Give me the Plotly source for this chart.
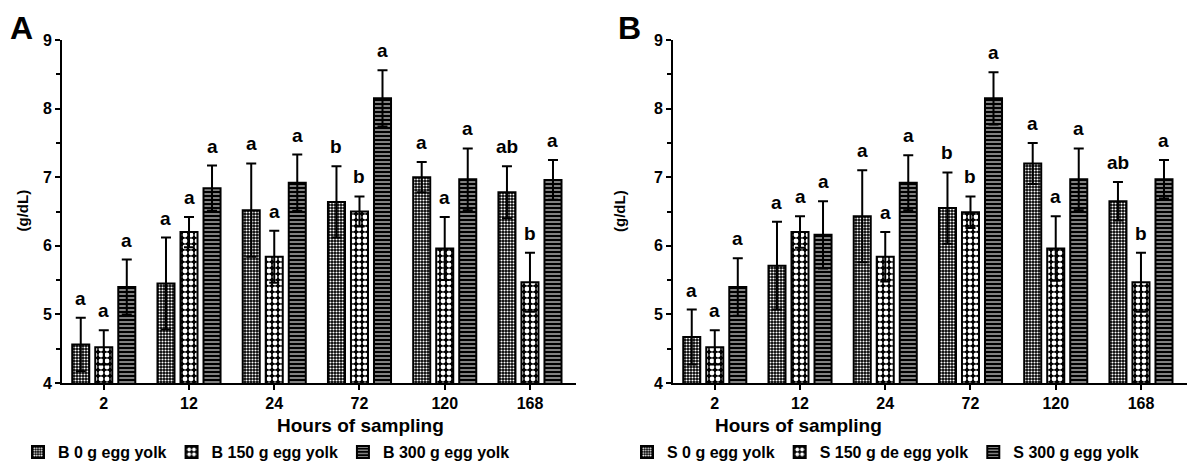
import plotly.graph_objects as go
from plotly.subplots import make_subplots

hours = ["2", "12", "24", "72", "120", "168"]

b_names = ["B 0 g egg yolk", "B 150 g egg yolk", "B 300 g egg yolk"]
s_names = ["S 0 g egg yolk", "S 150 g de egg yolk", "S 300 g egg yolk"]

# panel A (B groups)
b0_mean = [4.56, 5.45, 6.52, 6.64, 7.00, 6.78]
b0_sd = [0.39, 0.67, 0.68, 0.52, 0.22, 0.38]
b150_mean = [4.52, 6.20, 5.84, 6.50, 5.96, 5.47]
b150_sd = [0.25, 0.22, 0.38, 0.22, 0.46, 0.43]
b300_mean = [5.40, 6.84, 6.92, 8.15, 6.97, 6.96]
b300_sd = [0.40, 0.33, 0.41, 0.41, 0.45, 0.29]

# panel B (S groups)
s0_mean = [4.67, 5.71, 6.43, 6.55, 7.20, 6.65]
s0_sd = [0.40, 0.64, 0.67, 0.52, 0.30, 0.28]
s150_mean = [4.52, 6.20, 5.84, 6.49, 5.96, 5.47]
s150_sd = [0.25, 0.23, 0.36, 0.23, 0.47, 0.43]
s300_mean = [5.40, 6.16, 6.92, 8.15, 6.97, 6.97]
s300_sd = [0.42, 0.49, 0.40, 0.38, 0.45, 0.28]

letters_0 = ["a", "a", "a", "b", "a", "ab"]
letters_150 = ["a", "a", "a", "b", "a", "b"]
letters_300 = ["a", "a", "a", "a", "a", "a"]

FONT = "Liberation Sans, Arial, sans-serif"
BARGAP = 0.19

# the page body has an 8px margin, so the figure is drawn 8px in from the window corner
W, H = 1184, 453


def px(x):
    return (x - 8) / W


def py(y):
    return (H + 8 - y) / H


patterns = [
    dict(shape=".", bgcolor="black", fgcolor="white", size=3, solidity=0.4, fgopacity=1),
    dict(shape=".", bgcolor="black", fgcolor="white", size=6, solidity=0.5, fgopacity=1),
    dict(shape="-", bgcolor="black", fgcolor="white", size=4, solidity=0.25, fgopacity=1),
]

fig = make_subplots(rows=1, cols=2)

panels = [
    (1, "legend", b_names, [(b0_mean, b0_sd), (b150_mean, b150_sd), (b300_mean, b300_sd)]),
    (2, "legend2", s_names, [(s0_mean, s0_sd), (s150_mean, s150_sd), (s300_mean, s300_sd)]),
]
letter_sets = [letters_0, letters_150, letters_300]

for col, leg, names, series in panels:
    for j, (mean, sd) in enumerate(series):
        fig.add_trace(go.Bar(
            x=hours, y=mean,
            name=names[j],
            legend=leg,
            marker=dict(color="black", pattern=patterns[j],
                        line=dict(color="black", width=2)),
            error_y=dict(type="data", array=sd, color="black", thickness=2, width=5),
        ), row=1, col=col)

        # significance letters above the error bars
        slot = (1 - BARGAP) / 3
        xref = "x" if col == 1 else "x2"
        yref = "y" if col == 1 else "y2"
        for i in range(len(hours)):
            fig.add_annotation(
                x=i + (j - 1) * slot, y=mean[i] + sd[i],
                xref=xref, yref=yref, text=letter_sets[j][i],
                showarrow=False, yanchor="bottom", yshift=7,
                font=dict(family=FONT, size=19, color="black", weight="bold"),
            )

legend_font = dict(family=FONT, size=16, color="black", weight="bold")
fig.update_layout(
    width=W, height=H,
    barmode="group", bargap=BARGAP, bargroupgap=0.26,
    plot_bgcolor="white", paper_bgcolor="white",
    margin=dict(l=0, r=0, t=0, b=0, autoexpand=False),
    font=dict(family=FONT, color="black"),
    legend=dict(orientation="h", x=px(18), y=py(452), xanchor="left", yanchor="middle",
                font=legend_font, itemwidth=30),
    legend2=dict(orientation="h", x=px(627), y=py(452), xanchor="left", yanchor="middle",
                 font=legend_font, itemwidth=30),
)

fig.update_xaxes(
    range=[-0.49, 5.54], showline=True, linecolor="black", linewidth=2,
    ticks="outside", ticklen=5, tickwidth=2, tickcolor="black",
    tickfont=dict(family=FONT, size=16, weight="bold"), showgrid=False,
)
fig.update_yaxes(
    range=[4, 9], domain=[py(383), py(40)], showline=True, linecolor="black", linewidth=2,
    ticks="outside", ticklen=5, tickwidth=2, tickcolor="black", dtick=1,
    minor=dict(dtick=0.5, ticks="outside", ticklen=4, tickwidth=2, tickcolor="black"),
    tickfont=dict(family=FONT, size=16, weight="bold"), showgrid=False, zeroline=False,
)
fig.update_xaxes(domain=[px(62), px(576)], row=1, col=1)
fig.update_xaxes(domain=[px(673), px(1187)], row=1, col=2)

# panel letters, axis titles
for txt, xv in [("A", 8), ("B", 616)]:
    fig.add_annotation(x=px(xv), y=1.0, xref="paper", yref="paper", text=txt, showarrow=False,
                       xanchor="left", yanchor="top",
                       font=dict(family=FONT, size=32, weight="bold"))
for xv in [12, 620]:
    fig.add_annotation(x=px(xv), y=py(211), xref="paper", yref="paper", text="(g/dL)",
                       textangle=-90, showarrow=False,
                       font=dict(family=FONT, size=15, weight="bold"))
for xv in [275, 884]:
    fig.add_annotation(x=px(xv), y=py(425), xref="paper", yref="paper",
                       text="Hours of sampling", showarrow=False, yanchor="middle",
                       font=dict(family=FONT, size=19, weight="bold"))

fig.write_html("out.html")
